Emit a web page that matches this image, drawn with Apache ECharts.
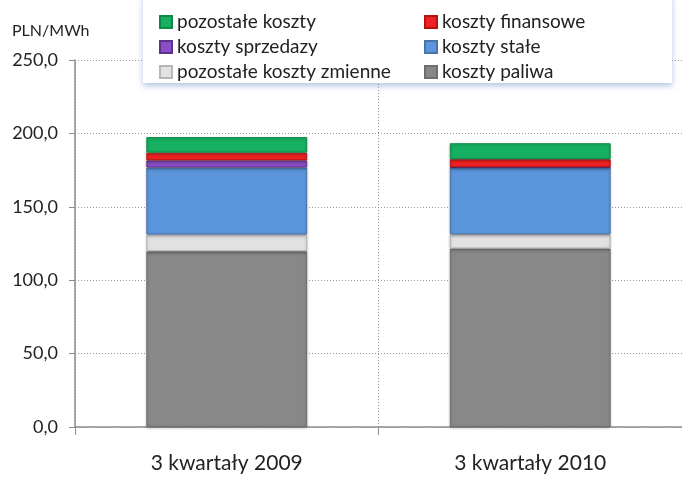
<!DOCTYPE html>
<html>
<head>
<meta charset="utf-8">
<script src="https://cdn.jsdelivr.net/npm/echarts@6/dist/echarts.min.js"></script>
<style>
  html, body { margin: 0; padding: 0; background: #fff; }
  #chart { width: 682px; height: 477px; }
</style>
</head>
<body>
<div id="chart"></div>
<script>
// categories and values (PLN/MWh)
const categories = ['3 kwartały 2009', '3 kwartały 2010'];
const kosztyPaliwa = [119.7, 121.6];
const pozostaleZmienne = [11.4, 9.7];
const kosztyStale = [45.6, 45.4];
const kosztySprzedazy = [4.9, 0.3];
const kosztyFinansowe = [5.3, 5.4];
const pozostaleKoszty = [10.6, 10.9];
const yTicks = [0, 50, 100, 150, 200, 250];

const FONT = 'Lato';

const chart = echarts.init(document.getElementById('chart'));

function seg(name, data, color, border) {
  return {
    name: name,
    type: 'bar',
    stack: 'total',
    barWidth: '53%',
    data: data,
    itemStyle: {
      color: color,
      borderColor: border,
      borderWidth: 1,
      shadowBlur: 3,
      shadowColor: 'rgba(0,0,0,0.25)',
      shadowOffsetY: 1,
    },
  };
}

const legendText = { fontFamily: FONT, fontSize: 19, lineHeight: 20, color: '#222' };

chart.setOption({
  animation: false,
  grid: { left: 75, right: -5, top: 60, bottom: 50 },
  graphic: [{
    type: 'rect',
    z: 5,
    shape: { x: 143, y: -5, width: 529, height: 88 },
    style: {
      fill: '#fff',
      shadowBlur: 6,
      shadowOffsetY: 3,
      shadowColor: 'rgba(120,150,200,0.55)',
    },
  }, {
    type: 'text',
    z: 6,
    left: 12,
    top: 23,
    style: { text: 'PLN/MWh', font: '16px ' + FONT, fill: '#222' },
  }],
  legend: [{
    z: 10,
    orient: 'vertical',
    left: 154,
    top: 7,
    itemGap: 5,
    itemWidth: 12,
    itemHeight: 12,
    icon: 'rect',
    textStyle: legendText,
    data: ['pozostałe koszty', 'koszty sprzedazy', 'pozostałe koszty zmienne'],
  }, {
    z: 10,
    orient: 'vertical',
    left: 419,
    top: 7,
    itemGap: 5,
    itemWidth: 12,
    itemHeight: 12,
    icon: 'rect',
    textStyle: legendText,
    data: ['koszty finansowe', 'koszty stałe', 'koszty paliwa'],
  }],
  xAxis: {
    type: 'category',
    data: categories,
    axisLine: { lineStyle: { color: '#8c8c8c', width: 1.5 } },
    axisTick: { show: true, length: 8, lineStyle: { color: '#8c8c8c' } },
    splitLine: { show: true, lineStyle: { color: '#999', type: [1, 2] } },
    axisLabel: { fontFamily: FONT, fontSize: 21, color: '#222', margin: 26 },
  },
  yAxis: {
    type: 'value',
    min: yTicks[0],
    max: yTicks[yTicks.length - 1],
    interval: 50,
    axisLine: { show: true, lineStyle: { color: '#8c8c8c', width: 1.5 } },
    axisTick: { show: true, length: 6, lineStyle: { color: '#8c8c8c' } },
    splitLine: { lineStyle: { color: '#999', type: [1, 2] } },
    axisLabel: {
      fontFamily: FONT,
      fontSize: 18,
      color: '#222',
      margin: 17,
      formatter: v => v.toFixed(1).replace('.', ','),
    },
  },
  series: [
    seg('koszty paliwa', kosztyPaliwa, '#888888', '#6e6e6e'),
    seg('pozostałe koszty zmienne', pozostaleZmienne, '#e2e2e2', '#b5b5b5'),
    seg('koszty stałe', kosztyStale, '#5b96dd', '#4a73a8'),
    seg('koszty sprzedazy', kosztySprzedazy, '#8a4fc6', '#5e3289'),
    seg('koszty finansowe', kosztyFinansowe, '#ee2222', '#b21414'),
    seg('pozostałe koszty', pozostaleKoszty, '#16b060', '#0e8a48'),
  ],
});
</script>
</body>
</html>
